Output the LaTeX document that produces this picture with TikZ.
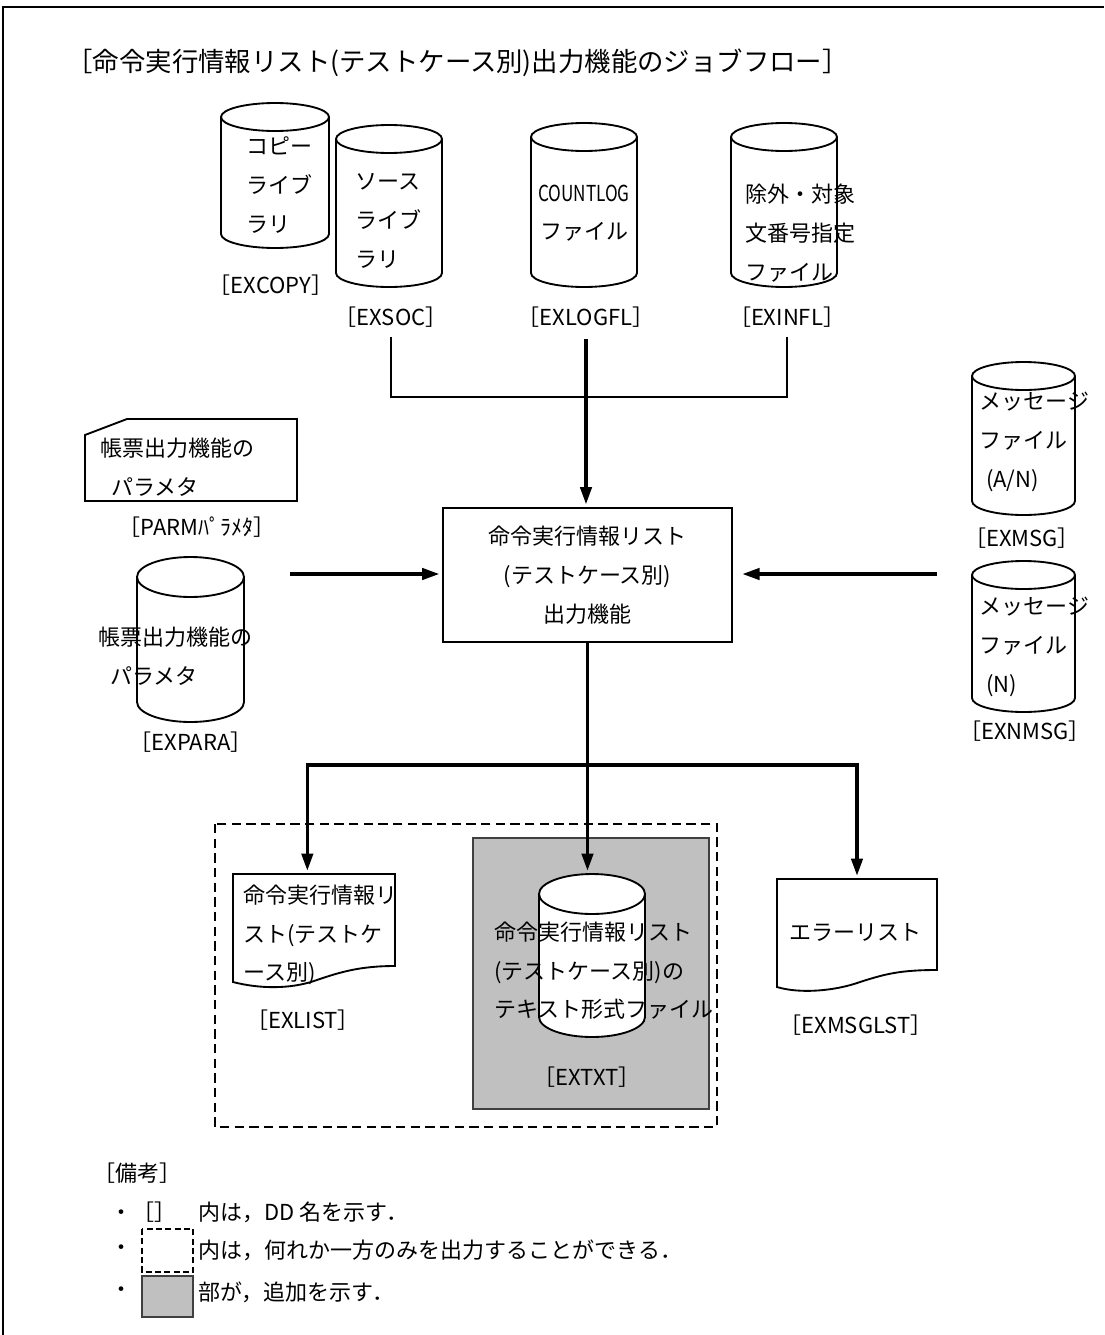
\documentclass[tikz,border=0pt]{standalone}
\usepackage{fontspec}
\setmainfont{Noto Sans CJK JP}
\usetikzlibrary{arrows.meta}

\definecolor{addgray}{RGB}{192,192,192}
\newcommand{\bodyfont}{\fontsize{16.5}{29}\selectfont}
\newcommand{\titlefont}{\fontsize{19.8}{23}\selectfont}

\tikzset{every picture/.style={line width=0.75pt},
  shapeline/.style={line width=1.4pt},
  flowarrow/.style={line width=2.6pt,-{Triangle[length=13pt,width=8.5pt]},shorten >=2pt},
  joinline/.style={line width=1.5pt,shorten <=6pt,shorten >=6pt},
  txt/.style={inner sep=0.75pt,align=left,font=\bodyfont},
  ddname/.style={inner sep=0.75pt,font=\bodyfont}}

% can: name, cx, top, bottom, half width, y radius
\newcommand{\drawcan}[6]{%
  \draw[shapeline,fill=white] (#2-#5,#3+#6) -- (#2-#5,#4-#6) arc[start angle=180,end angle=0,x radius=#5,y radius=#6] -- (#2+#5,#3+#6) arc[start angle=0,end angle=-180,x radius=#5,y radius=#6] -- cycle;
  \draw[shapeline] (#2-#5,#3+#6) arc[start angle=180,end angle=0,x radius=#5,y radius=#6];
  \path ({#2},{(#3+#4)/2}) node[inner sep=0pt,minimum width={1.5pt*#5},minimum height={0.75pt*(#4-#3)}] (#1) {};
}

\begin{document}
\begin{tikzpicture}[x=0.75pt,y=0.75pt,yscale=-1,xscale=1]
      \useasboundingbox (0,0) rectangle (1104,1335);
      %Frame
      \draw [line width=1pt] (3,1335) -- (3,7) -- (1104,7);

      % Text Node
      \draw (66,63) node [anchor=west][inner sep=0pt][font=\titlefont] (title) {［命令実行情報リスト(テストケース別)出力機能のジョブフロー］};

      %Shape: Can
      \drawcan{copy}{275}{103}{248}{54}{14}
      \draw (245,185) node [anchor=west][txt] (copytxt) {コピー\\ライブ\\ラリ};
      \draw (271,285) node [ddname] (lbcopy) {［EXCOPY］};
      %Shape: Can
      \drawcan{soc}{389}{125}{287}{53}{14}
      \draw (354,221) node [anchor=west][txt] (soctxt) {ソース\\ライブ\\ラリ};
      \draw (391,317) node [ddname] (lbsoc) {［EXSOC］};
      %Shape: Can
      \drawcan{logfl}{584}{123}{287}{53}{14}
      \draw (584,213) node [txt,align=center] (logtxt) {\scalebox{0.78}[1]{COUNTLOG}\\ファイル};
      \draw (586,317) node [ddname] (lblog) {［EXLOGFL］};
      %Shape: Can
      \drawcan{infl}{784}{123}{287}{53}{14}
      \draw (744,233) node [anchor=west][txt] (infltxt) {除外・対象\\文番号指定\\ファイル};
      \draw (787,317) node [ddname] (lbinfl) {［EXINFL］};

      %Straight Lines
      \coordinate (join) at (586,397);
      \draw [joinline] (lbsoc.south) |- (join) -| (lbinfl.south);

      %Shape: Rectangle
      \draw (587.5,575) node [draw,shapeline,minimum width=216.75pt,minimum height=100.5pt,align=center,font=\bodyfont] (func) {命令実行情報リスト\\(テストケース別)\\出力機能};
      \draw [flowarrow,shorten <=8pt] (lblog.south) -- (lblog.south |- func.north);

      %Shape: Card
      \draw [shapeline] (85,435) -- (127,419) -- (297,419) -- (297,501) -- (85,501) -- cycle;
      \draw (99,467.5) node [anchor=west][txt] (parmtxt) {帳票出力機能の\\\hspace*{8pt}パラメタ};
      \draw (197,527) node [ddname] (lbparm) {［PARMﾊﾟﾗﾒﾀ］};
      %Shape: Can
      \drawcan{para}{190.5}{557}{722}{53.5}{20}
      \draw (97,656) node [anchor=west][txt] (paratxt) {帳票出力機能の\\\hspace*{9pt}パラメタ};
      \draw (191,742) node [ddname] (lbpara) {［EXPARA］};
      \coordinate (parmin) at (290,574);
      \draw [flowarrow] (parmin) -- (parmin -| func.west);

      %Shape: Can
      \drawcan{msg}{1023.5}{362}{515}{51.5}{14}
      \draw (978,442) node [anchor=west][txt] (msgtxt) {メッセージ\\ファイル\\\hspace*{5pt}(A/N)};
      \draw (1022,538) node [ddname] (lbmsg) {［EXMSG］};
      %Shape: Can
      \drawcan{nmsg}{1023.5}{561}{712}{51.5}{14}
      \draw (978,647) node [anchor=west][txt] (nmsgtxt) {メッセージ\\ファイル\\\hspace*{5pt}(N)};
      \draw (1025,731) node [ddname] (lbnmsg) {［EXNMSG］};
      \coordinate (msgin) at (937,574);
      \draw [flowarrow,shorten >=7pt] (msgin) -- (msgin -| func.east);

      %Shape: Rectangle (dashed)
      \draw [line width=2pt,dash pattern=on 7pt off 4pt] (215,824) rectangle (717,1127);
      %Shape: Rectangle (added)
      \draw [fill=addgray,draw=black!75,line width=0.9pt] (473,838) rectangle (709,1109);

      %Shape: Document
      \draw [shapeline,fill=white] (233,874) -- (395,874) -- (395,966) .. controls (360,966) and (340,972) .. (314,981) .. controls (290,989) and (260,989) .. (233,982) -- cycle;
      \path (314,928) node [inner sep=0pt,minimum width=121.5pt,minimum height=81pt] (exlist) {};
      \draw (242,935) node [anchor=west][txt] (listtxt) {命令実行情報リ\\スト(テストケ\\ース別)};
      \draw (303,1020) node [ddname] (lblist) {［EXLIST］};

      %Shape: Can
      \drawcan{extxt}{592}{874}{1037}{53}{20}
      \draw (493,971) node [anchor=west][txt] (txttxt) {命令実行情報リスト\\(テストケース別)の\\テキスト形式ファイル};
      \draw (587,1077) node [ddname] (lbtxt) {［EXTXT］};

      %Shape: Document
      \draw [shapeline,fill=white] (777,879) -- (937,879) -- (937,970) .. controls (900,970) and (885,974) .. (860,982) .. controls (835,991) and (800,994) .. (777,987) -- cycle;
      \path (857,933) node [inner sep=0pt,minimum width=120pt,minimum height=81pt] (errlst) {};
      \draw (855,932) node [txt] (errtxt) {エラーリスト};
      \draw (856,1025) node [ddname] (lberr) {［EXMSGLST］};

      %Straight Lines
      \coordinate (split) at (587.5,765);
      \draw [flowarrow] (func.south) -- (func.south |- extxt.north);
      \draw [flowarrow] (split) -| ([xshift=-5pt]exlist.north);
      \draw [flowarrow] (split) -| (errlst.north);

      % Text Node
      \draw (92,1173) node [anchor=west][ddname] (notes) {［備考］};
      \draw (109,1212) node [anchor=west][ddname] (note1) {・［］　内は，DD 名を示す．};
      \draw (109,1250) node [anchor=west][ddname] (bul2) {・};
      \draw [line width=1.7pt,dash pattern=on 4.5pt off 2.5pt] (142,1229) rectangle (193,1272);
      \draw (197,1250) node [anchor=west][ddname] (note2) {内は，何れか一方のみを出力することができる．};
      \draw (109,1292) node [anchor=west][ddname] (bul3) {・};
      \draw [fill=addgray,draw=black!75,line width=0.9pt] (142,1276) rectangle (193,1317);
      \draw (197,1292) node [anchor=west][ddname] (note3) {部が，追加を示す．};
\end{tikzpicture}
\end{document}
